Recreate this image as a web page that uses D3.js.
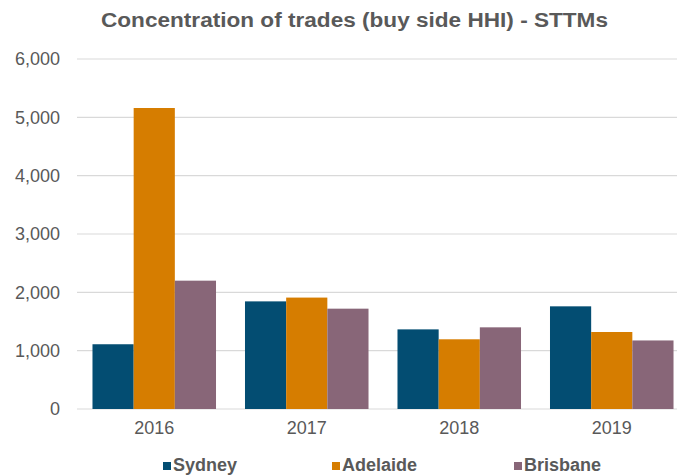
<!DOCTYPE html>
<html>
<head>
<meta charset="utf-8">
<script src="https://cdn.jsdelivr.net/npm/d3@7"></script>
<style>
  body { margin: 0; background: #fff; }
  text { font-family: "Liberation Sans", Arial, sans-serif; fill: #595959; }
</style>
</head>
<body>
<svg id="svg" width="677" height="476"></svg>
<script>
// data
var years = ["2016", "2017", "2018", "2019"];
var series = ["Sydney", "Adelaide", "Brisbane"];
var sydney = [1110, 1845, 1365, 1760];
var adelaide = [5160, 1910, 1195, 1320];
var brisbane = [2200, 1720, 1400, 1175];
var yTicks = [0, 1000, 2000, 3000, 4000, 5000, 6000];

var colors = ["#034d72", "#d67d00", "#886678"];
var values = [sydney, adelaide, brisbane];

var svg = d3.select("#svg");

// scales
var x = d3.scaleBand().domain(years).range([78, 688]).paddingInner(0.19).paddingOuter(0.095);
var xs = d3.scaleBand().domain(series).range([0, x.bandwidth()]);
var y = d3.scaleLinear().domain([0, 6000]).range([409, 59]);

// gridlines
svg.append("g").selectAll("line").data(yTicks).enter().append("line")
  .attr("x1", 77).attr("x2", 677)
  .attr("y1", function(d) { return y(d); })
  .attr("y2", function(d) { return y(d); })
  .attr("stroke", "#d9d9d9")
  .attr("stroke-width", 1.2);

// y axis labels
var yAxis = svg.append("g").attr("transform", "translate(64,0)")
  .call(d3.axisLeft(y).tickValues(yTicks).tickSize(0).tickPadding(4).tickFormat(d3.format(",")));
yAxis.select(".domain").remove();
yAxis.selectAll("text").style("font-size", "18px").attr("fill", "#595959");

// bars
series.forEach(function(s, j) {
  svg.append("g").selectAll("rect").data(years).enter().append("rect")
    .attr("x", function(d) { return x(d) + xs(s); })
    .attr("width", xs.bandwidth())
    .attr("y", function(d, i) { return y(values[j][i]); })
    .attr("height", function(d, i) { return y(0) - y(values[j][i]); })
    .attr("fill", colors[j]);
});

// x axis labels
var xAxis = svg.append("g").attr("transform", "translate(0,416)")
  .call(d3.axisBottom(x).tickSize(0).tickPadding(5));
xAxis.select(".domain").remove();
xAxis.selectAll("text").style("font-size", "18px").attr("fill", "#595959");

// title
svg.append("text")
  .attr("x", 101).attr("y", 27)
  .attr("textLength", 507)
  .attr("lengthAdjust", "spacingAndGlyphs")
  .style("font-size", "20px").style("font-weight", "bold")
  .text("Concentration of trades (buy side HHI) - STTMs");

// legend
var legendX = [163, 332, 514];
var legend = svg.append("g").selectAll("g").data(series).enter().append("g")
  .attr("transform", function(d, i) { return "translate(" + legendX[i] + ",462)"; });
legend.append("rect")
  .attr("width", 8).attr("height", 8)
  .attr("fill", function(d, i) { return colors[i]; });
legend.append("text")
  .attr("x", 10).attr("y", 9)
  .style("font-size", "18px").style("font-weight", "bold")
  .text(function(d) { return d; });
</script>
</body>
</html>
